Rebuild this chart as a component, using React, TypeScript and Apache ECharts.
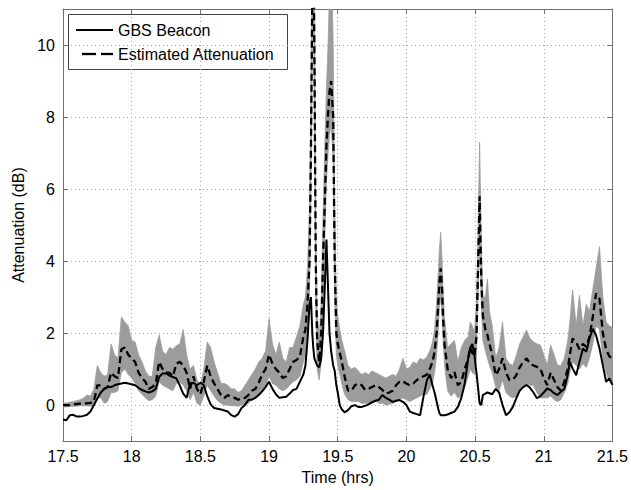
import React, { useEffect, useRef } from "react";
import * as echarts from "echarts";

const times = [
  17.500, 17.525, 17.550, 17.575, 17.600, 17.625, 17.650, 17.675, 17.700, 17.725,
  17.750, 17.775, 17.800, 17.825, 17.850, 17.875, 17.900, 17.925, 17.950, 17.975,
  18.000, 18.025, 18.050, 18.075, 18.100, 18.125, 18.150, 18.175, 18.200, 18.225,
  18.250, 18.275, 18.300, 18.325, 18.350, 18.375, 18.400, 18.425, 18.450, 18.475,
  18.500, 18.525, 18.550, 18.575, 18.600, 18.625, 18.650, 18.675, 18.700, 18.725,
  18.750, 18.775, 18.800, 18.825, 18.850, 18.875, 18.900, 18.925, 18.950, 18.975,
  19.000, 19.025, 19.050, 19.075, 19.100, 19.125, 19.150, 19.175, 19.200, 19.225,
  19.250, 19.265, 19.280, 19.295, 19.305, 19.315, 19.322, 19.330, 19.340, 19.350,
  19.365, 19.380, 19.393, 19.405, 19.418, 19.430, 19.440, 19.452, 19.467, 19.478,
  19.490, 19.500, 19.515, 19.530, 19.550, 19.575, 19.600, 19.625, 19.650, 19.675,
  19.700, 19.725, 19.750, 19.775, 19.800, 19.825, 19.850, 19.875, 19.900, 19.925,
  19.950, 19.975, 20.000, 20.025, 20.050, 20.075, 20.100, 20.125, 20.150, 20.170,
  20.190, 20.205, 20.220, 20.232, 20.240, 20.250, 20.260, 20.266, 20.278, 20.300,
  20.325, 20.350, 20.375, 20.400, 20.425, 20.450, 20.465, 20.480, 20.495, 20.510,
  20.520, 20.533, 20.545, 20.557, 20.575, 20.590, 20.605, 20.625, 20.650, 20.675,
  20.700, 20.725, 20.750, 20.775, 20.800, 20.825, 20.850, 20.875, 20.900, 20.925,
  20.950, 20.975, 21.000, 21.025, 21.050, 21.075, 21.100, 21.125, 21.150, 21.175,
  21.190, 21.210, 21.236, 21.260, 21.285, 21.310, 21.333, 21.357, 21.381, 21.406,
  21.430, 21.454, 21.478, 21.500,
];

const beacon = [
  -0.40, -0.42, -0.28, -0.27, -0.32, -0.32, -0.30, -0.27, -0.18, 0.00,
  0.18, 0.35, 0.45, 0.50, 0.50, 0.55, 0.58, 0.60, 0.62, 0.60,
  0.58, 0.55, 0.48, 0.42, 0.38, 0.35, 0.38, 0.45, 0.78, 0.88,
  0.88, 0.82, 0.78, 0.74, 0.55, 0.32, 0.20, 0.60, 0.62, 0.55,
  0.62, 0.55, 0.25, 0.02, -0.08, -0.10, -0.12, -0.15, -0.18, -0.28,
  -0.32, -0.25, -0.08, 0.00, 0.15, 0.15, 0.20, 0.28, 0.38, 0.50,
  0.65, 0.45, 0.30, 0.20, 0.22, 0.23, 0.32, 0.42, 0.45, 0.65,
  0.85, 1.10, 1.80, 2.80, 3.00, 2.00, 1.60, 1.30, 1.20, 1.10,
  1.05, 1.30, 2.00, 3.20, 4.60, 3.20, 2.00, 1.50, 1.10, 0.95,
  0.55, 0.35, 0.00, -0.12, -0.20, -0.14, -0.03, 0.00, -0.05, -0.05,
  -0.02, 0.02, 0.08, 0.12, 0.15, 0.28, 0.20, 0.15, 0.09, 0.12,
  0.14, 0.09, 0.00, -0.18, -0.22, -0.25, -0.28, 0.25, 0.70, 0.85,
  0.55, 0.35, 0.10, -0.10, -0.22, -0.28, -0.28, -0.28, -0.28, -0.26,
  -0.22, -0.18, -0.05, 0.20, 0.60, 1.30, 1.60, 1.70, 1.40, 0.90,
  0.55, 0.05, 0.00, 0.28, 0.32, 0.35, 0.33, 0.30, 0.45, 0.35,
  0.00, -0.28, -0.20, -0.05, 0.19, 0.40, 0.50, 0.56, 0.48, 0.35,
  0.19, 0.25, 0.35, 0.46, 0.42, 0.33, 0.28, 0.37, 0.45, 0.85,
  1.20, 1.02, 0.83, 1.20, 1.57, 1.48, 1.85, 2.12, 1.94, 1.57,
  1.11, 0.65, 0.74, 0.56,
];

const estimate = [
  0.00, 0.00, 0.00, 0.02, 0.03, 0.04, 0.05, 0.05, 0.06, 0.10,
  0.55, 0.55, 0.45, 0.50, 0.90, 0.80, 0.75, 1.55, 1.60, 1.40,
  1.30, 1.20, 0.90, 0.75, 0.65, 0.45, 0.50, 0.60, 1.20, 1.00,
  0.90, 0.90, 0.80, 1.15, 1.20, 1.10, 0.90, 0.45, 0.80, 0.45,
  0.30, 0.65, 1.10, 0.80, 0.60, 0.45, 0.28, 0.20, 0.28, 0.22,
  0.20, 0.15, 0.18, 0.20, 0.28, 0.40, 0.45, 0.62, 0.85, 1.00,
  1.40, 1.15, 1.00, 0.90, 0.75, 0.80, 1.00, 1.20, 1.25, 1.35,
  1.90, 2.10, 2.80, 4.00, 7.00, 11.5, 13.0, 10.0, 4.00, 1.80,
  1.20, 2.00, 4.00, 5.50, 7.20, 8.10, 8.70, 9.00, 8.00, 4.00,
  2.00, 1.70, 1.45, 1.20, 0.80, 0.40, 0.40, 0.55, 0.60, 0.55,
  0.42, 0.45, 0.50, 0.55, 0.50, 0.42, 0.32, 0.35, 0.40, 0.55,
  0.65, 0.66, 0.60, 0.55, 0.60, 0.69, 0.76, 0.80, 0.85, 1.00,
  1.20, 1.47, 2.00, 2.80, 3.40, 3.80, 3.20, 2.50, 1.66, 1.00,
  0.75, 0.92, 0.55, 0.65, 1.00, 1.30, 1.60, 1.45, 1.35, 1.90,
  3.50, 5.80, 3.50, 2.47, 2.10, 1.95, 1.70, 1.38, 0.83, 1.00,
  1.30, 0.90, 0.70, 0.70, 0.83, 1.05, 1.20, 1.30, 1.15, 1.10,
  1.06, 1.02, 0.75, 0.56, 0.90, 0.70, 0.50, 0.40, 0.65, 1.02,
  1.40, 1.85, 1.75, 1.55, 1.70, 1.62, 1.90, 2.45, 3.10, 2.95,
  2.00, 1.55, 1.35, 1.30,
];

const bandLow = [
  -0.05, -0.05, -0.04, -0.03, -0.03, -0.02, -0.02, -0.02, -0.03, 0.00,
  0.20, 0.20, 0.05, 0.10, 0.35, 0.35, 0.40, 0.90, 1.00, 0.85,
  0.75, 0.60, 0.40, 0.30, 0.20, 0.12, 0.15, 0.25, 0.65, 0.55,
  0.50, 0.45, 0.40, 0.60, 0.65, 0.55, 0.40, 0.15, 0.35, 0.05,
  0.00, 0.25, 0.55, 0.40, 0.25, 0.12, 0.05, 0.00, 0.00, -0.02,
  -0.02, -0.03, 0.00, 0.02, 0.05, 0.15, 0.20, 0.30, 0.40, 0.50,
  0.80, 0.60, 0.55, 0.45, 0.40, 0.45, 0.55, 0.65, 0.70, 0.80,
  1.20, 1.40, 2.00, 3.20, 6.00, 10.0, 11.5, 8.50, 3.00, 1.00,
  0.70, 1.20, 3.00, 4.50, 6.20, 7.00, 7.50, 7.80, 6.80, 3.00,
  1.40, 1.10, 0.85, 0.60, 0.30, 0.15, 0.10, 0.10, 0.10, 0.05,
  0.05, 0.05, 0.10, 0.12, 0.05, 0.05, 0.00, 0.02, 0.05, 0.10,
  0.15, 0.20, 0.15, 0.10, 0.15, 0.20, 0.25, 0.30, 0.30, 0.45,
  0.60, 0.90, 1.40, 2.10, 2.70, 3.00, 2.50, 1.90, 1.10, 0.40,
  0.25, 0.35, 0.20, 0.25, 0.50, 0.80, 1.00, 0.90, 0.85, 1.30,
  2.80, 4.80, 2.80, 1.80, 1.50, 1.30, 1.10, 0.90, 0.50, 0.40,
  0.70, 0.35, 0.25, 0.20, 0.25, 0.40, 0.55, 0.60, 0.55, 0.55,
  0.35, 0.20, 0.20, 0.20, 0.25, 0.15, 0.10, 0.15, 0.35, 0.60,
  0.90, 1.20, 1.10, 1.00, 1.15, 1.05, 1.30, 1.70, 2.20, 2.10,
  1.30, 0.90, 0.65, 0.56,
];

const bandHigh = [
  0.05, 0.06, 0.08, 0.10, 0.12, 0.15, 0.20, 0.28, 0.25, 0.45,
  1.10, 0.90, 0.80, 0.85, 1.70, 1.40, 1.30, 2.45, 2.30, 2.20,
  1.80, 1.75, 1.40, 1.20, 0.95, 0.80, 0.80, 1.60, 1.95, 1.50,
  1.40, 1.60, 1.55, 1.65, 1.70, 2.10, 1.40, 1.00, 1.10, 0.70,
  0.55, 1.00, 1.75, 1.60, 1.20, 0.90, 0.60, 0.60, 0.55, 0.45,
  0.45, 0.35, 0.40, 0.55, 0.70, 0.85, 1.00, 1.20, 1.30, 1.50,
  2.40, 1.70, 1.40, 1.75, 1.30, 1.20, 1.60, 1.60, 1.90, 2.20,
  2.80, 3.00, 3.80, 5.50, 8.50, 13.0, 15.0, 12.0, 5.00, 2.60,
  1.90, 2.80, 5.20, 7.00, 8.80, 10.0, 11.5, 13.0, 10.0, 5.50,
  2.90, 2.50, 2.10, 1.80, 1.50, 1.10, 1.00, 1.05, 0.95, 0.85,
  0.90, 0.85, 0.95, 0.90, 0.85, 0.80, 0.75, 0.80, 0.85, 0.80,
  1.00, 1.30, 1.00, 1.05, 1.20, 1.15, 1.30, 1.25, 1.35, 1.50,
  1.75, 2.10, 2.80, 3.70, 4.30, 4.80, 4.00, 3.30, 2.40, 1.60,
  1.70, 1.80, 1.20, 1.60, 1.80, 1.90, 2.30, 2.20, 2.00, 2.80,
  4.50, 7.30, 4.60, 3.00, 3.00, 3.50, 2.60, 2.20, 1.30, 1.60,
  2.30, 1.30, 1.15, 1.10, 1.38, 1.70, 1.90, 2.08, 1.85, 1.76,
  1.70, 1.67, 1.40, 1.11, 1.67, 1.40, 1.10, 1.10, 1.30, 1.80,
  2.30, 3.20, 2.20, 3.05, 2.20, 2.80, 2.60, 3.20, 3.80, 4.40,
  3.00, 2.30, 2.20, 2.15,
];

const legendNames = ["GBS Beacon", "Estimated Attenuation"];
const xTicks = { min: 17.5, max: 21.5, interval: 0.5 };
const yRange = { min: -1, max: 11 };

export default function App() {
  const ref = useRef<HTMLDivElement>(null);

  useEffect(() => {
    if (!ref.current) return;
    const chart = echarts.init(ref.current, null, { renderer: "svg" });
    const font = "'Liberation Sans', Arial, Helvetica, sans-serif";
    const pair = (arr: number[]) => times.map((t, i) => [t, arr[i]]);
    const frame = "#707070";
    const bandColor = "#9c9c9c";

    const axisCommon = {
      axisLine: { show: true, onZero: false, lineStyle: { color: frame, width: 1 } },
      axisTick: { show: true, inside: true, length: 5, lineStyle: { color: frame } },
    };

    chart.setOption({
      animation: false,
      backgroundColor: "#ffffff",
      textStyle: { fontFamily: font },
      grid: { left: 63, right: 18, top: 9, bottom: 48 },
      xAxis: [
        {
          type: "value",
          ...xTicks,
          position: "bottom",
          name: "Time (hrs)",
          nameLocation: "middle",
          nameGap: 27,
          nameTextStyle: { fontSize: 16, color: "#000", fontFamily: font },
          ...axisCommon,
          axisLabel: { fontSize: 16, color: "#000", margin: 7, fontFamily: font },
          splitLine: { show: true, lineStyle: { color: "#a8a8a8", type: [1, 3], width: 1 } },
        },
        {
          type: "value",
          ...xTicks,
          position: "top",
          ...axisCommon,
          axisLabel: { show: false },
          splitLine: { show: false },
        },
      ],
      yAxis: [
        {
          type: "value",
          ...yRange,
          splitNumber: 6,
          position: "left",
          name: "Attenuation (dB)",
          nameLocation: "middle",
          nameGap: 36,
          nameTextStyle: { fontSize: 16, color: "#000", fontFamily: font },
          ...axisCommon,
          axisLabel: {
            fontSize: 16,
            color: "#000",
            margin: 8,
            fontFamily: font,
            showMinLabel: false,
            showMaxLabel: false,
            formatter: (v: number) => (v === -1 || v === 11 ? "" : String(v)),
          },
          splitLine: { show: true, lineStyle: { color: "#a8a8a8", type: [1, 3], width: 1 } },
        },
        {
          type: "value",
          ...yRange,
          splitNumber: 6,
          position: "right",
          ...axisCommon,
          axisLabel: { show: false },
          splitLine: { show: false },
        },
      ],
      graphic: [
        {
          type: "group",
          z: 100,
          children: [
            {
              type: "rect",
              shape: { x: 68.5, y: 14.5, width: 219, height: 55 },
              style: { fill: "#ffffff", stroke: "#444", lineWidth: 1 },
            },
            {
              type: "line",
              shape: { x1: 76, y1: 30, x2: 113, y2: 30 },
              style: { stroke: "#000", lineWidth: 2 },
            },
            {
              type: "text",
              x: 118,
              y: 30,
              style: {
                text: legendNames[0],
                fill: "#000",
                font: `16px ${font}`,
                textVerticalAlign: "middle",
                verticalAlign: "middle",
              },
            },
            {
              type: "line",
              shape: { x1: 82, y1: 54, x2: 96, y2: 54 },
              style: { stroke: "#000", lineWidth: 2.3 },
            },
            {
              type: "line",
              shape: { x1: 101, y1: 54, x2: 113, y2: 54 },
              style: { stroke: "#000", lineWidth: 2.3 },
            },
            {
              type: "text",
              x: 118,
              y: 54,
              style: {
                text: legendNames[1],
                fill: "#000",
                font: `16px ${font}`,
                textVerticalAlign: "middle",
                verticalAlign: "middle",
              },
            },
          ],
        },
      ],
      series: [
        {
          name: "band",
          type: "custom",
          data: [[times[0], bandLow[0]]],
          clip: true,
          silent: true,
          z: 1,
          renderItem: (params: any, api: any) => {
            if (params.dataIndex !== 0) return null;
            const pts: number[][] = [];
            for (let i = 0; i < times.length; i++) pts.push(api.coord([times[i], bandHigh[i]]));
            for (let i = times.length - 1; i >= 0; i--) pts.push(api.coord([times[i], bandLow[i]]));
            return {
              type: "polygon",
              shape: { points: pts },
              style: { fill: bandColor, stroke: bandColor, lineWidth: 0.8 },
            };
          },
        },
        {
          name: legendNames[0],
          type: "line",
          data: pair(beacon),
          symbol: "none",
          color: "#000",
          lineStyle: { color: "#000", width: 2 },
          z: 3,
        },
        {
          name: legendNames[1],
          type: "line",
          data: pair(estimate),
          symbol: "none",
          color: "#000",
          lineStyle: { color: "#000", width: 2.3, type: [7, 4] },
          z: 4,
        },
      ],
    });

    return () => chart.dispose();
  }, []);

  return (
    <div
      ref={ref}
      style={{ position: "fixed", left: 0, top: 0, width: 631, height: 490, background: "#fff" }}
    />
  );
}
